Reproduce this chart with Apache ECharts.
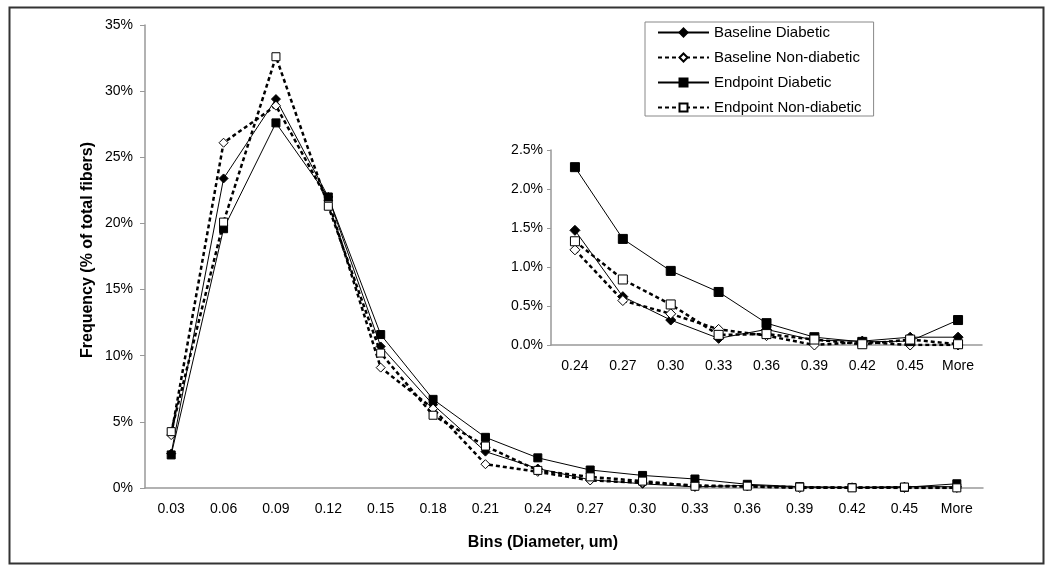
<!DOCTYPE html>
<html>
<head>
<meta charset="utf-8">
<script src="https://cdn.jsdelivr.net/npm/echarts@6/dist/echarts.min.js"></script>
<style>html,body{margin:0;padding:0;background:#fff}#c{width:1050px;height:568px}</style>
</head>
<body>
<div id="c"></div>
<script>
const categories = ['0.03','0.06','0.09','0.12','0.15','0.18','0.21','0.24','0.27','0.30','0.33','0.36','0.39','0.42','0.45','More'];
const insetStart = 7;
const baselineDiabetic    = [2.6, 23.4, 29.4, 22.0, 10.7, 6.3, 2.75, 1.47, 0.62, 0.32, 0.085, 0.20, 0.06, 0.05, 0.10, 0.10];
const baselineNonDiabetic = [4.0, 26.1, 28.9, 21.7, 9.1, 6.0, 1.8, 1.22, 0.57, 0.40, 0.20, 0.12, 0.0, 0.04, 0.0, 0.0];
const endpointDiabetic    = [2.5, 19.6, 27.6, 22.0, 11.6, 6.7, 3.83, 2.28, 1.36, 0.95, 0.68, 0.28, 0.10, 0.04, 0.05, 0.32];
const endpointNonDiabetic = [4.26, 20.1, 32.6, 21.3, 10.2, 5.5, 3.17, 1.33, 0.84, 0.52, 0.13, 0.14, 0.07, 0.01, 0.07, 0.01];
const mainYTicks = {min: 0, max: 35, interval: 5};
const insetYTicks = {min: 0, max: 2.5, interval: 0.5};

const FONT = '"Liberation Sans", Arial, sans-serif';
const AXIS = '#999';
const seriesDefs = [
  {name: 'Baseline Diabetic', data: baselineDiabetic, symbol: 'diamond', fill: '#000', dashed: false},
  {name: 'Baseline Non-diabetic', data: baselineNonDiabetic, symbol: 'diamond', fill: '#fff', dashed: true},
  {name: 'Endpoint Diabetic', data: endpointDiabetic, symbol: 'rect', fill: '#000', dashed: false},
  {name: 'Endpoint Non-diabetic', data: endpointNonDiabetic, symbol: 'rect', fill: '#fff', dashed: true}
];

function mkSeries(d, idx, data, size) {
  return {
    name: d.name, type: 'line', xAxisIndex: idx, yAxisIndex: idx, data: data,
    symbol: d.symbol, symbolSize: d.symbol === 'diamond' ? [size + 1, size + 1] : size,
    showAllSymbol: true, animation: false,
    itemStyle: {color: d.fill, borderColor: '#000', borderWidth: 1},
    lineStyle: d.dashed ? {color: '#000', width: 2.5, type: [4, 3]} : {color: '#000', width: 1, type: 'solid'},
    emphasis: {disabled: true}
  };
}

const series = [];
seriesDefs.forEach(d => series.push(mkSeries(d, 0, d.data, 8)));
seriesDefs.forEach(d => series.push(mkSeries(d, 1, d.data.slice(insetStart), 9)));

const axisCommon = {
  axisLine: {lineStyle: {color: AXIS, width: 1.5}},
  axisTick: {lineStyle: {color: AXIS}, length: 5},
  splitLine: {show: false}
};

const option = {
  backgroundColor: '#fff',
  animation: false,
  textStyle: {fontFamily: FONT, color: '#000'},
  grid: [
    {left: 145, top: 25, right: 67, bottom: 80},
    {left: 551, top: 150, right: 68, bottom: 223}
  ],
  xAxis: [
    Object.assign({type: 'category', gridIndex: 0, data: categories, boundaryGap: true,
      axisLabel: {color: '#000', fontSize: 14, fontFamily: FONT, margin: 14, interval: 0}}, axisCommon),
    Object.assign({type: 'category', gridIndex: 1, data: categories.slice(insetStart), boundaryGap: true,
      axisLabel: {color: '#000', fontSize: 14, fontFamily: FONT, margin: 14, interval: 0}}, axisCommon)
  ],
  yAxis: [
    Object.assign({type: 'value', gridIndex: 0, min: mainYTicks.min, max: mainYTicks.max, interval: mainYTicks.interval,
      axisLabel: {color: '#000', fontSize: 14, fontFamily: FONT, margin: 12, formatter: v => v + '%'}}, axisCommon, {axisLine: {show: true, lineStyle: {color: AXIS, width: 1.5}}, axisTick: {show: true, lineStyle: {color: AXIS}, length: 5}}),
    Object.assign({type: 'value', gridIndex: 1, min: insetYTicks.min, max: insetYTicks.max, interval: insetYTicks.interval,
      axisLabel: {color: '#000', fontSize: 14, fontFamily: FONT, margin: 8, formatter: v => v.toFixed(1) + '%'}}, axisCommon, {axisLine: {show: true, lineStyle: {color: AXIS, width: 1.5}}, axisTick: {show: true, lineStyle: {color: AXIS}, length: 4}})
  ],
  legend: {
    data: seriesDefs.map(d => d.name),
    orient: 'vertical', left: 645, top: 22,
    padding: [3, 12, 1, 12], itemGap: 10, itemWidth: 51, itemHeight: 10,
    borderColor: '#888', borderWidth: 1, backgroundColor: '#fff',
    textStyle: {fontSize: 15, fontFamily: FONT, color: '#000'},
    selectedMode: false
  },
  graphic: [
    {type: 'rect', left: 7, top: 5, shape: {width: 1034, height: 556}, style: {fill: 'none', stroke: '#333', lineWidth: 2}, z: -1, silent: true},
    {type: 'text', x: 543, y: 543, style: {text: 'Bins (Diameter, um)', font: 'bold 16px ' + FONT, fill: '#000', align: 'center', verticalAlign: 'middle'}},
    {type: 'text', x: 88, y: 250, rotation: Math.PI / 2, style: {text: 'Frequency (% of total fibers)', font: 'bold 16px ' + FONT, fill: '#000', align: 'center', verticalAlign: 'middle'}}
  ],
  series: series
};

const chart = echarts.init(document.getElementById('c'), null, {renderer: 'canvas'});
chart.setOption(option);
</script>
</body>
</html>
